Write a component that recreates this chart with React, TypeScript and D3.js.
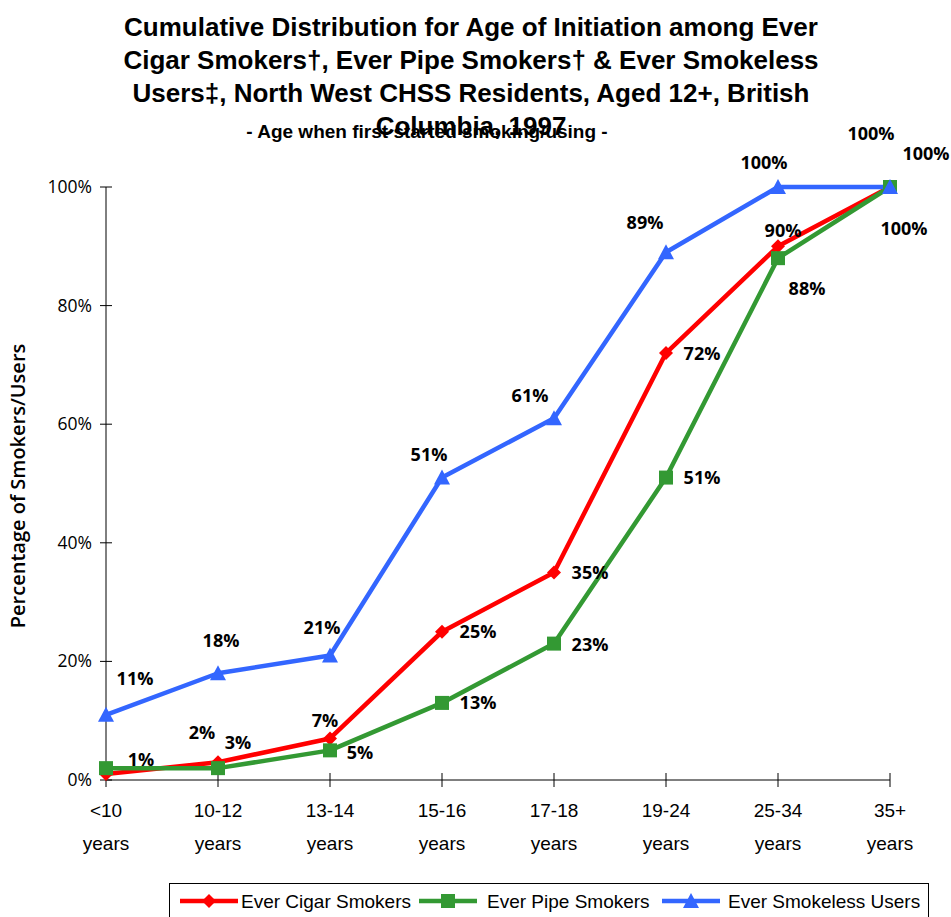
import React from "react";
import * as d3 from "d3";

const categories = ["<10", "10-12", "13-14", "15-16", "17-18", "19-24", "25-34", "35+"];
const cigarValues = [1, 3, 7, 25, 35, 72, 90, 100];
const pipeValues = [2, 2, 5, 13, 23, 51, 88, 100];
const smokelessValues = [11, 18, 21, 51, 61, 89, 100, 100];
const yTicks = [0, 20, 40, 60, 80, 100];
const titleLines = [
  "Cumulative Distribution for Age of Initiation among Ever",
  "Cigar Smokers†, Ever Pipe Smokers† & Ever Smokeless",
  "Users‡, North West CHSS Residents, Aged 12+, British",
  "Columbia, 1997",
];
const subtitle = "- Age when first started smoking/using -";
const yAxisTitle = "Percentage of Smokers/Users";

// label offsets (dx, dy) of label centre relative to point; null = not shown
const cigarLabelOff: ([number, number] | null)[] = [
  [35, -15], [20, -20], [-5, -18], [36, 0], [36, 0], [36, 0], [5, -16], [36, -34],
];
const pipeLabelOff: ([number, number] | null)[] = [
  null, [-16, -36], [30, 2], [36, 0], [36, 1], [36, 0], [29, 30], [14, 41],
];
const smokelessLabelOff: ([number, number] | null)[] = [
  [29, -36], [3, -33], [-8, -28], [-13, -23], [-24, -23], [-21, -30], [-14, -25], [-19, -54],
];

const W = 951;
const H = 917;
const M = { left: 106, right: 890, top: 187, bottom: 780 };

export default function App() {
  const x = d3.scalePoint<string>().domain(categories).range([M.left, M.right]);
  const y = d3.scaleLinear().domain([0, 100]).range([M.bottom, M.top]);
  const line = d3
    .line<number>()
    .x((_, i) => x(categories[i]) as number)
    .y((d) => y(d));

  const series = [
    { name: "Ever Cigar Smokers", values: cigarValues, color: "#ff0000", marker: "diamond", off: cigarLabelOff },
    { name: "Ever Pipe Smokers", values: pipeValues, color: "#339933", marker: "square", off: pipeLabelOff },
    { name: "Ever Smokeless Users", values: smokelessValues, color: "#3366ff", marker: "triangle", off: smokelessLabelOff },
  ];

  const marker = (type: string, cx: number, cy: number, color: string, key: string) => {
    if (type === "diamond") {
      const s = 7;
      return <path key={key} d={`M${cx},${cy - s}L${cx + s},${cy}L${cx},${cy + s}L${cx - s},${cy}Z`} fill={color} />;
    }
    if (type === "square") {
      const s = 7;
      return <rect key={key} x={cx - s} y={cy - s} width={2 * s} height={2 * s} fill={color} />;
    }
    const s = 8;
    return <path key={key} d={`M${cx},${cy - s}L${cx + s},${cy + s - 1}L${cx - s},${cy + s - 1}Z`} fill={color} />;
  };

  const narrow = "'Liberation Sans', Arial, sans-serif";
  const sans = "'Open Sans', 'Noto Sans', sans-serif";

  const legendItems = [
    { x: 180, textX: 241 },
    { x: 419, textX: 487 },
    { x: 662, textX: 728 },
  ];

  return (
    <svg width={W} height={H} style={{ position: "absolute", left: 0, top: 0 }}>
      <rect width={W} height={H} fill="#fff" />
      {titleLines.map((t, i) => (
        <text key={i} x={471} y={36 + i * 33} textAnchor="middle" fontFamily={narrow} fontWeight="bold" fontSize={26} fill="#000">
          {t}
        </text>
      ))}
      <text x={427} y={138} textAnchor="middle" fontFamily={narrow} fontWeight="bold" fontSize={19} fill="#000">
        {subtitle}
      </text>

      {/* axes */}
      <line x1={M.left} x2={M.left} y1={M.top} y2={M.bottom} stroke="#000" strokeWidth={1} />
      <line x1={M.left} x2={M.right} y1={M.bottom} y2={M.bottom} stroke="#000" strokeWidth={1} />
      {yTicks.map((t) => (
        <g key={t}>
          <line x1={M.left - 6} x2={M.left + 6} y1={y(t)} y2={y(t)} stroke="#000" />
          <text x={92} y={y(t) + 6} textAnchor="end" fontFamily={sans} fontSize={17.5} fill="#000">
            {t}%
          </text>
        </g>
      ))}
      {categories.map((c) => (
        <g key={c}>
          <line x1={x(c)} x2={x(c)} y1={M.bottom - 7} y2={M.bottom + 7} stroke="#000" />
          <text x={x(c)} y={817} textAnchor="middle" fontFamily={narrow} fontSize={19} fill="#000">
            {c}
          </text>
          <text x={x(c)} y={850} textAnchor="middle" fontFamily={narrow} fontSize={19} fill="#000">
            years
          </text>
        </g>
      ))}
      <text
        transform={`translate(25,486) rotate(-90)`}
        textAnchor="middle"
        fontFamily={sans}
        fontWeight={600}
        fontSize={20}
        fill="#000"
      >
        {yAxisTitle}
      </text>

      {/* lines */}
      {series.map((s) => (
        <path key={s.name} d={line(s.values) as string} fill="none" stroke={s.color} strokeWidth={4.5} strokeLinejoin="round" />
      ))}
      {series.map((s) =>
        s.values.map((v, i) => marker(s.marker, x(categories[i]) as number, y(v), s.color, s.name + i))
      )}
      {series.map((s) =>
        s.values.map((v, i) => {
          const o = s.off[i];
          if (!o) return null;
          return (
            <text
              key={s.name + "l" + i}
              x={(x(categories[i]) as number) + o[0]}
              y={y(v) + o[1] + 6.5}
              textAnchor="middle"
              fontFamily={sans}
              fontWeight="bold"
              fontSize={18}
              fill="#000"
            >
              {v}%
            </text>
          );
        })
      )}

      {/* legend */}
      <rect x={169.5} y={883.5} width={759} height={40} fill="#fff" stroke="#000" strokeWidth={1} />
      {series.map((s, i) => (
        <g key={s.name + "leg"}>
          <line x1={legendItems[i].x} x2={legendItems[i].x + 58} y1={901} y2={901} stroke={s.color} strokeWidth={4.5} />
          {marker(s.marker, legendItems[i].x + 29, 901, s.color, s.name + "lm")}
          <text x={legendItems[i].textX} y={908} fontFamily={narrow} fontSize={19} fill="#000">
            {s.name}
          </text>
        </g>
      ))}
    </svg>
  );
}
